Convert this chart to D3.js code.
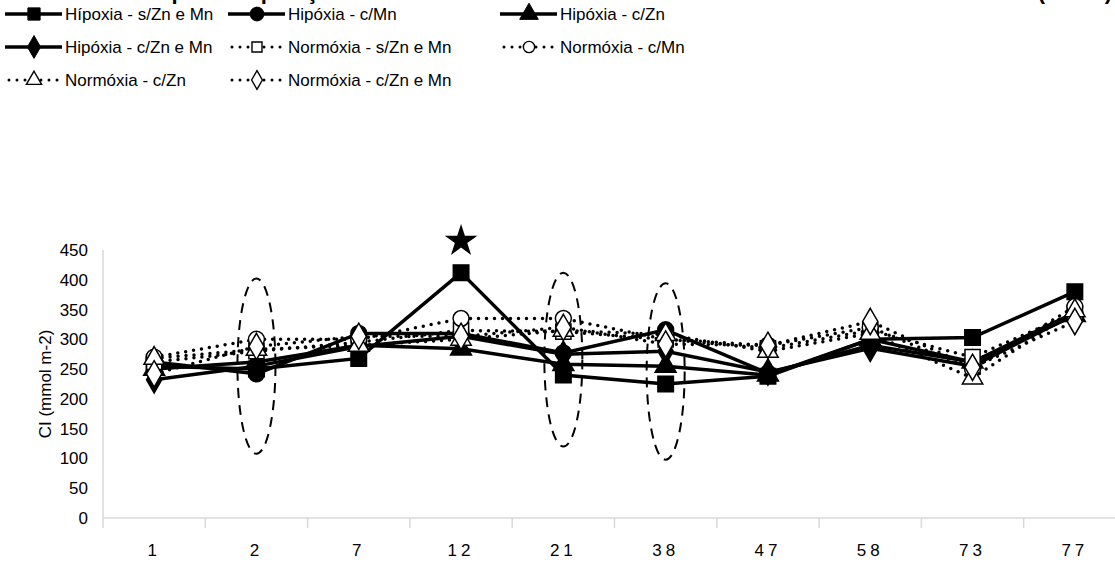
<!DOCTYPE html>
<html>
<head>
<meta charset="utf-8">
<script src="https://cdn.jsdelivr.net/npm/d3@7"></script>
<style>
  body { margin: 0; background: #fff; }
  svg { display: block; }
  text { font-family: "Liberation Sans", Arial, sans-serif; fill: #000; }
</style>
</head>
<body>
<div id="chart"></div>
<script>
// Categories (days) and series values
const days = ["1", "2", "7", "12", "21", "38", "47", "58", "73", "77"];

const seriesNames = [
  "Hípoxia - s/Zn e Mn", "Hipóxia - c/Mn", "Hipóxia - c/Zn", "Hipóxia - c/Zn e Mn",
  "Normóxia - s/Zn e Mn", "Normóxia - c/Mn", "Normóxia - c/Zn", "Normóxia - c/Zn e Mn"
];

const hipSZnMn = [255, 250, 268, 412, 240, 225, 238, 300, 303, 380];
const hipCMn   = [262, 242, 310, 310, 277, 316, 243, 290, 262, 345];
const hipCZn   = [250, 262, 290, 284, 258, 255, 240, 300, 262, 340];
const hipCZnMn = [232, 255, 288, 305, 275, 280, 245, 285, 255, 342];
const norSZnMn = [262, 280, 295, 315, 313, 300, 285, 315, 270, 345];
const norCMn   = [270, 300, 300, 335, 335, 300, 290, 320, 250, 355];
const norCZn   = [268, 283, 290, 300, 315, 308, 280, 310, 235, 348];
const norCZnMn = [242, 288, 305, 305, 320, 292, 290, 330, 253, 330];

const yTicks = [0, 50, 100, 150, 200, 250, 300, 350, 400, 450];

// dashed ellipses drawn around some days (top / bottom values)
const ellipseDays = ["2", "21", "38"];
const ellipseTop = [402, 412, 394];
const ellipseBottom = [108, 120, 98];

// star mark above the peak
const starDay = "12";
const starValue = 465;

const allValues = [hipSZnMn, hipCMn, hipCZn, hipCZnMn, norSZnMn, norCMn, norCZn, norCZnMn];

const width = 1115, height = 572;

const svg = d3.select("#chart").append("svg")
  .attr("width", width)
  .attr("height", height);

const x = d3.scaleBand().domain(days).range([103, 103 + 10 * 102.3]);
const y = d3.scaleLinear().domain([0, 450]).range([518, 250]);

// symbols per series
const symbolTypes = [d3.symbolSquare, d3.symbolCircle, d3.symbolTriangle, d3.symbolDiamond,
                     d3.symbolSquare, d3.symbolCircle, d3.symbolTriangle, d3.symbolDiamond];
const symbolSizes = [240, 200, 190, 200, 230, 200, 180, 200];

// Title (cut off at the top in the original, only descenders show)
svg.append("text")
  .attr("x", 128).attr("y", -1.5)
  .style("font-size", "22px").style("font-weight", "bold")
  .text("Tempo de exposição");
svg.append("text")
  .attr("x", 1112).attr("y", -1.5)
  .attr("text-anchor", "end")
  .style("font-size", "22px").style("font-weight", "bold")
  .text("(SPAD)");

// Axes
svg.append("line")
  .attr("x1", 103).attr("x2", 103)
  .attr("y1", y(450)).attr("y2", y(0))
  .attr("stroke", "#d9d9d9").attr("stroke-width", 1.5);
svg.append("line")
  .attr("x1", 103).attr("x2", width)
  .attr("y1", y(0)).attr("y2", y(0))
  .attr("stroke", "#d9d9d9").attr("stroke-width", 1.5);

// category boundary ticks
svg.selectAll(".xtick")
  .data(days)
  .join("line")
  .attr("class", "xtick")
  .attr("x1", d => x(d)).attr("x2", d => x(d))
  .attr("y1", y(0)).attr("y2", y(0) + 10)
  .attr("stroke", "#d9d9d9").attr("stroke-width", 1.5);

svg.selectAll(".xlab")
  .data(days)
  .join("text")
  .attr("class", "xlab")
  .attr("x", d => x(d) + x.bandwidth() / 2)
  .attr("y", 556)
  .attr("text-anchor", "middle")
  .style("font-size", "17px")
  .style("letter-spacing", "4px")
  .text(d => d);

svg.selectAll(".ylab")
  .data(yTicks)
  .join("text")
  .attr("class", "ylab")
  .attr("x", 88)
  .attr("y", d => y(d) + 6)
  .attr("text-anchor", "end")
  .style("font-size", "17px")
  .text(d => d);

svg.append("text")
  .attr("transform", "translate(51," + y(225) + ") rotate(-90)")
  .attr("text-anchor", "middle")
  .style("font-size", "17px")
  .text("CI (mmol m-2)");

// Ellipses
ellipseDays.forEach(function (d, i) {
  svg.append("ellipse")
    .attr("cx", x(d) + x.bandwidth() / 2)
    .attr("cy", (y(ellipseTop[i]) + y(ellipseBottom[i])) / 2)
    .attr("rx", 19)
    .attr("ry", (y(ellipseBottom[i]) - y(ellipseTop[i])) / 2)
    .attr("fill", "none")
    .attr("stroke", "#000")
    .attr("stroke-width", 2)
    .attr("stroke-dasharray", "10,7");
});

// Star
svg.append("path")
  .attr("d", d3.symbol().type(d3.symbolStar).size(330)())
  .attr("transform", "translate(" + (x(starDay) + x.bandwidth() / 2) + "," + y(starValue) + ")")
  .attr("fill", "#000");

const line = d3.line()
  .x((v, i) => x(days[i]) + x.bandwidth() / 2)
  .y(v => y(v));

// Lines then markers for each series
allValues.forEach(function (vals, s) {
  const normoxia = s >= 4;
  svg.append("path")
    .attr("d", line(vals))
    .attr("fill", "none")
    .attr("stroke", "#000")
    .attr("stroke-width", 3.5)
    .attr("stroke-linecap", normoxia ? "round" : "butt")
    .attr("stroke-dasharray", normoxia ? "0,8" : null);

  svg.selectAll(".m" + s)
    .data(vals)
    .join("path")
    .attr("class", "m" + s)
    .attr("d", d3.symbol().type(symbolTypes[s]).size(symbolSizes[s])())
    .attr("transform", (v, i) => "translate(" + (x(days[i]) + x.bandwidth() / 2) + "," + y(v) + ")")
    .attr("fill", normoxia ? "#fff" : "#000")
    .attr("stroke", "#000")
    .attr("stroke-width", 1.5);
});

// Legend
const legendCols = [5, 228, 500];
const legendRows = [14, 47, 80];
seriesNames.forEach(function (name, s) {
  const normoxia = s >= 4;
  const cx = legendCols[s % 3], cy = legendRows[Math.floor(s / 3)];
  const g = svg.append("g").attr("transform", "translate(" + cx + "," + cy + ")");
  g.append("line")
    .attr("x1", normoxia ? 4 : 0).attr("x2", 57)
    .attr("y1", 0).attr("y2", 0)
    .attr("stroke", "#000")
    .attr("stroke-width", normoxia ? 3 : 3.5)
    .attr("stroke-linecap", normoxia ? "round" : "butt")
    .attr("stroke-dasharray", normoxia ? "0,8" : null);
  g.append("path")
    .attr("d", d3.symbol().type(symbolTypes[s]).size(normoxia ? 100 : 150)())
    .attr("transform", "translate(29,0)")
    .attr("fill", normoxia ? "#fff" : "#000")
    .attr("stroke", "#000")
    .attr("stroke-width", normoxia ? 1.4 : 1);
  g.append("text")
    .attr("x", 60).attr("y", 6)
    .style("font-size", "17px")
    .text(name);
});
</script>
</body>
</html>
